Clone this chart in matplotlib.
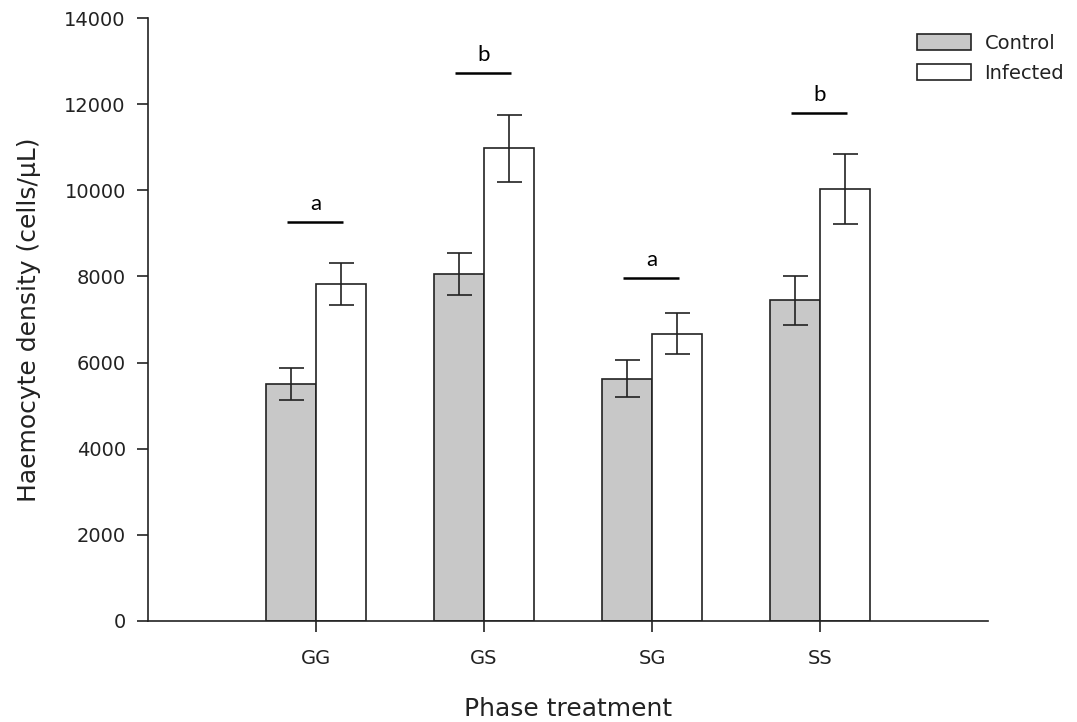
import matplotlib
matplotlib.use("Agg")
import matplotlib.pyplot as plt
from matplotlib.patches import Patch

categories = ["GG", "GS", "SG", "SS"]
control = [5500, 8060, 5620, 7450]
control_err = [380, 490, 430, 570]
infected = [7830, 10980, 6670, 10030]
infected_err = [490, 780, 470, 820]
sig_labels = ["a", "b", "a", "b"]
sig_levels = [9260, 12720, 7960, 11790]

plt.rcParams['font.family'] = ['DejaVu Sans']

fig = plt.figure(figsize=(10.77, 7.22), dpi=100)
ax = fig.add_axes([0.1374, 0.1399, 0.7800, 0.8351])

x = [i + 1 for i in range(len(categories))]
w = 0.3
xc = [xi - w / 2 for xi in x]
xi_ = [xi + w / 2 for xi in x]
ax.bar(xc, control, width=w, color="#c8c8c8", edgecolor="#222222", linewidth=1.2, zorder=2)
ax.bar(xi_, infected, width=w, color="white", edgecolor="#222222", linewidth=1.2, zorder=2)
ax.errorbar(xc, control, yerr=control_err, fmt="none", ecolor="#222222", elinewidth=1.2, capsize=9, capthick=1.2, zorder=3)
ax.errorbar(xi_, infected, yerr=infected_err, fmt="none", ecolor="#222222", elinewidth=1.2, capsize=9, capthick=1.2, zorder=3)

for xi, lab, lev in zip(x, sig_labels, sig_levels):
    ax.plot([xi - 0.17, xi + 0.16], [lev, lev], color="black", linewidth=1.8, solid_capstyle="butt")
    ax.text(xi, lev + 200, lab, ha="center", va="bottom", fontsize=16, family="Lato")

ax.set_xlim(0, 5)
ax.set_ylim(0, 14000)
ax.set_xticks(x)
ax.set_xticklabels(categories, fontsize=14)
ax.set_yticks(range(0, 14001, 2000))
ax.tick_params(axis="both", direction="out", length=8, width=1.2, labelsize=14, pad=8, colors="#222222", labelcolor="#222222")
ax.tick_params(axis="x", pad=12)
for s in ["top", "right"]:
    ax.spines[s].set_visible(False)
for s in ["left", "bottom"]:
    ax.spines[s].set_linewidth(1.2)
    ax.spines[s].set_color("#222222")

ax.set_xlabel("Phase treatment", fontsize=18, labelpad=21, color="#222222")
ax.set_ylabel("Haemocyte density (cells/\u00b5L)", fontsize=18, labelpad=17, color="#222222")

handles = [Patch(facecolor="#c8c8c8", edgecolor="#222222", linewidth=1.2, label="Control"),
           Patch(facecolor="white", edgecolor="#222222", linewidth=1.2, label="Infected")]
fig.legend(handles=handles, loc="upper left", bbox_to_anchor=(0.8514, 0.953), frameon=False,
           borderpad=0, borderaxespad=0,
           fontsize=14, handlelength=2.78, handleheight=0.88, handletextpad=0.7, labelspacing=0.55,
           labelcolor="#222222")

fig.savefig("out.png", dpi=100)
